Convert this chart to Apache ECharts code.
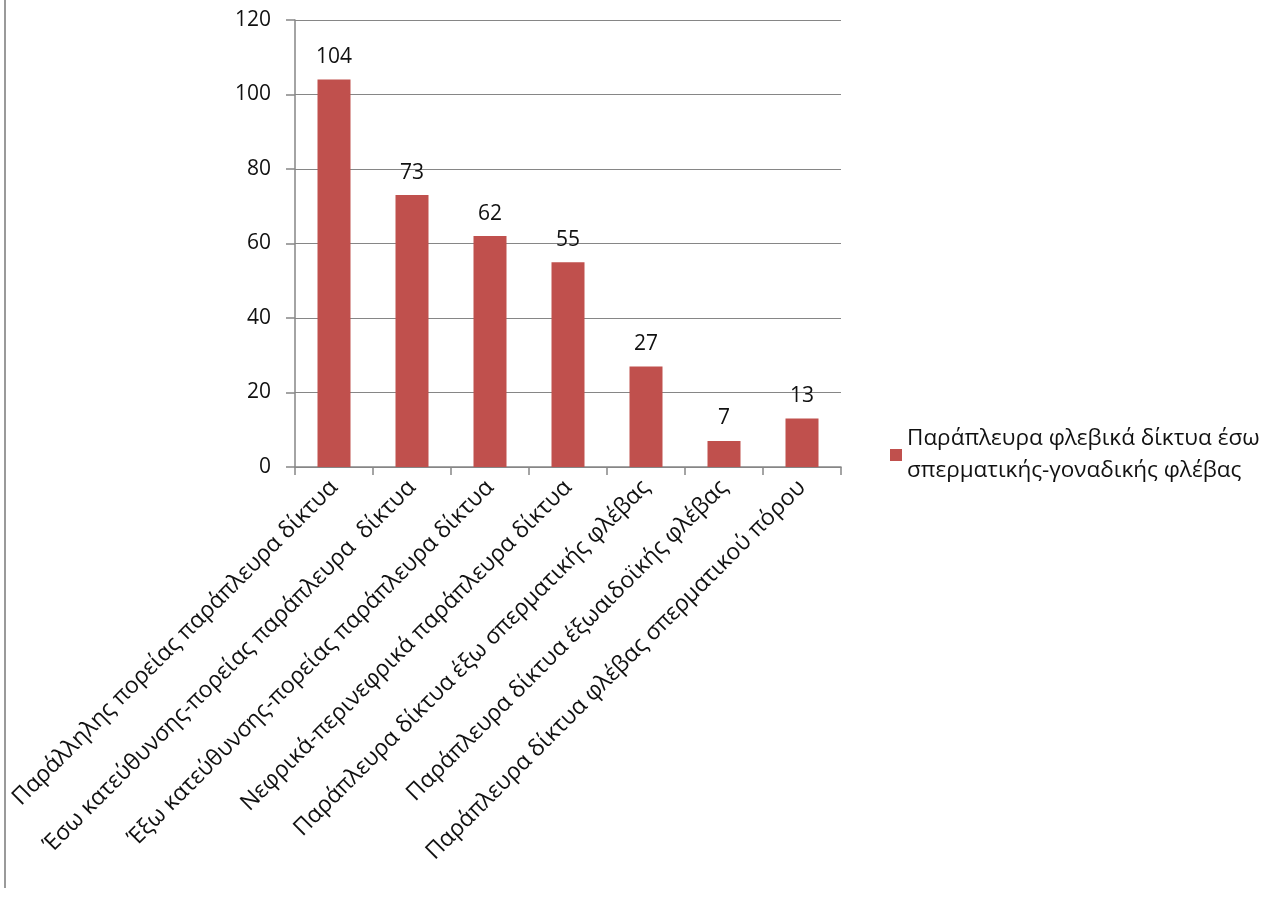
<!DOCTYPE html>
<html><head><meta charset="utf-8">
<script src="https://cdn.jsdelivr.net/npm/echarts@6/dist/echarts.min.js"></script>
<style>html,body{margin:0;padding:0;background:#fff}#c{width:1285px;height:901px}</style>
</head><body><div id="c"></div>
<script>
const categories = [
  "Παράλληλης πορείας παράπλευρα δίκτυα",
  "Έσω κατεύθυνσης-πορείας παράπλευρα  δίκτυα",
  "Έξω κατεύθυνσης-πορείας παράπλευρα δίκτυα",
  "Νεφρικά-περινεφρικά παράπλευρα δίκτυα",
  "Παράπλευρα δίκτυα έξω σπερματικής φλέβας",
  "Παράπλευρα δίκτυα έξωαιδοϊκής φλέβας",
  "Παράπλευρα δίκτυα φλέβας σπερματικού πόρου"
];
const values = [104, 73, 62, 55, 27, 7, 13];
const seriesName = "Παράπλευρα φλεβικά δίκτυα έσω σπερματικής-γοναδικής φλέβας";
const legendLines = ["Παράπλευρα φλεβικά δίκτυα έσω", "σπερματικής-γοναδικής φλέβας"];
const yTicks = [0, 20, 40, 60, 80, 100, 120];

const font = "'Open Sans', 'Noto Sans', sans-serif";
const chart = echarts.init(document.getElementById('c'));
chart.setOption({
  animation: false,
  backgroundColor: '#fff',
  textStyle: {fontFamily: font},
  grid: {left: 295, right: 444, top: 20, bottom: 434, containLabel: false},
  legend: {
    left: 885, top: 418, orient: 'vertical',
    itemWidth: 12, itemHeight: 12, itemGap: 10,
    icon: 'rect',
    formatter: n => legendLines.join("\n"),
    textStyle: {fontSize: 22.5, color: '#111', lineHeight: 32, fontFamily: font}
  },
  xAxis: {
    type: 'category', data: categories,
    axisLine: {lineStyle: {color: '#868686', width: 1.5}},
    axisTick: {show: true, length: 8, lineStyle: {color: '#868686', width: 1.5}},
    axisLabel: {rotate: 45, interval: 0, fontSize: 23, color: '#111', margin: 17, fontFamily: font}
  },
  yAxis: {
    type: 'value', min: yTicks[0], max: yTicks[yTicks.length - 1], interval: 20,
    axisLine: {show: true, lineStyle: {color: '#868686', width: 1.5}},
    axisTick: {show: true, length: 9, lineStyle: {color: '#868686', width: 1.5}},
    splitLine: {lineStyle: {color: '#868686', width: 1.2}},
    axisLabel: {fontSize: 21, color: '#111', margin: 24, fontFamily: font}
  },
  series: [{
    name: seriesName, type: 'bar', data: values,
    barWidth: 33,
    itemStyle: {color: '#C0504D'},
    label: {show: true, position: 'top', distance: 12, fontSize: 21, color: '#111', fontFamily: font}
  }],
  graphic: [{type: 'line', shape: {x1: 5, y1: 0, x2: 5, y2: 888}, style: {stroke: '#9a9a9a', lineWidth: 2}}]
});
</script></body></html>
